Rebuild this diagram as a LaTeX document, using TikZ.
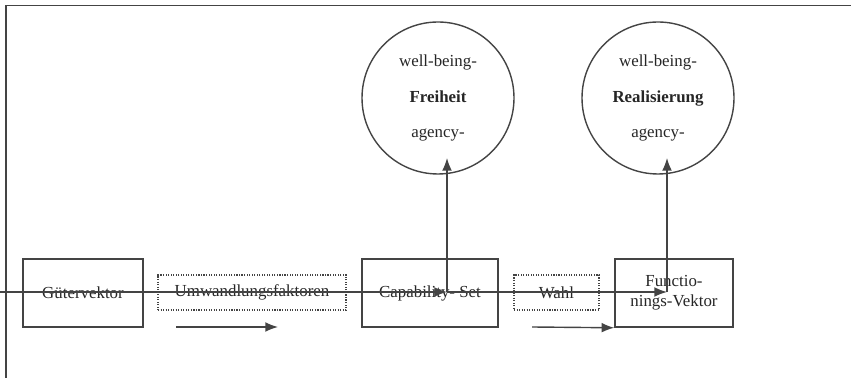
\documentclass[tikz,border=0pt]{standalone}
\usepackage{fontspec}
\setmainfont{Liberation Serif}
\usepackage{tikz}
\usetikzlibrary{arrows.meta}
\usetikzlibrary{shapes}
\definecolor{line-gray}{RGB}{68,68,68}
\tikzstyle{diagramm}=[font=\fontsize{12}{14}\selectfont, text=black!85]
\tikzstyle{vektorbox}=[draw=line-gray, line width=1.1pt, minimum height=1.7cm, align=center, inner sep=1pt]
\tikzstyle{faktorbox}=[draw=line-gray, densely dotted, line width=0.8pt, minimum height=0.875cm, inner sep=1pt]
\tikzstyle{zielkreis}=[draw=line-gray, circle, line width=1pt, minimum size=3.8cm, align=center, font=\fontsize{12}{25}\selectfont]
\tikzstyle{pfeil}=[draw=line-gray, line width=1pt, -{Latex[length=9pt,width=7pt]}]

\begin{document}
\begin{tikzpicture}[diagramm]
	\useasboundingbox (0,0) rectangle (21.275,9.45);
	\draw[line-gray, line width=1.4pt] (0.15,0) -- (0.15,9.3125) -- (21.275,9.3125);
	\node[vektorbox, minimum width=3cm] (gueter) at (2.075,2.125) {G\"utervektor};
	\node[faktorbox, minimum width=4.7cm] (umwandlung) at (6.3,2.1375) {Umwandlungsfaktoren};
	\node[vektorbox, minimum width=3.4cm] (capset) at (10.75,2.125) {Capability- Set};
	\node[faktorbox, minimum width=2.125cm] (wahl) at (13.9125,2.1375) {Wahl};
	\node[vektorbox, minimum width=2.95cm] (funcvek) at (16.85,2.125) {Functio-\\nings-Vektor};
	\node[zielkreis] (freiheit) at (10.95,7) {well-being-\\\textbf{Freiheit}\\agency-};
	\node[zielkreis] (realis) at (16.45,7) {well-being-\\\textbf{Realisierung}\\agency-};
	\coordinate (anfang) at (0,2.15);
	\coordinate (fr-fuss) at (11.175,2.15);
	\coordinate (re-fuss) at (16.675,2.15);
	\coordinate (fr-spitze) at (11.175,5.5);
	\coordinate (re-spitze) at (16.675,5.5);
	\coordinate (um-start) at (4.4,1.275);
	\coordinate (um-ende) at (6.95,1.275);
	\coordinate (wahl-start) at (13.3,1.275);
	\draw[pfeil] (anfang) -- (fr-fuss);
	\draw[pfeil] (fr-fuss) -- (re-fuss);
	\draw[pfeil] (fr-fuss) -- (fr-spitze);
	\draw[pfeil] (re-fuss) -- (re-spitze);
	\draw[pfeil] (um-start) -- (um-ende);
	\draw[pfeil] (wahl-start) -- (funcvek.south west);
\end{tikzpicture}
\end{document}
